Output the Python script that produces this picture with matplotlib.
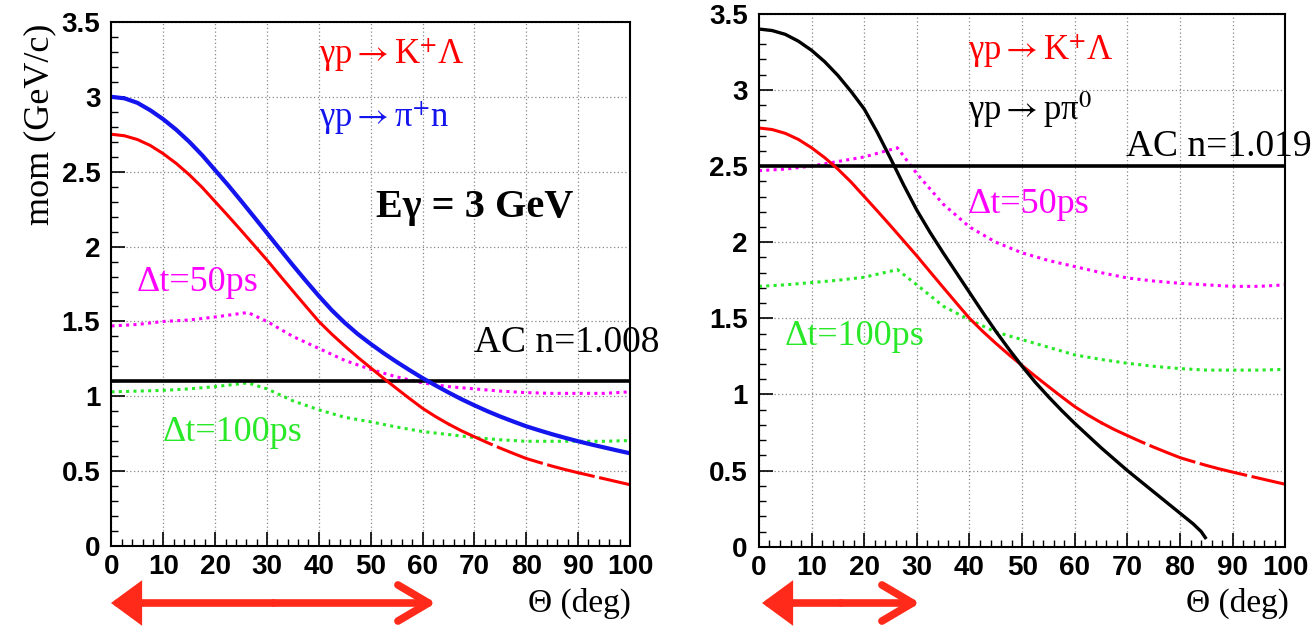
import matplotlib
matplotlib.use("Agg")
import matplotlib.pyplot as plt
from matplotlib.patches import FancyArrowPatch
from matplotlib.ticker import MultipleLocator

plt.rcParams['mathtext.fontset'] = 'stix'

# angles (deg)
theta = [0, 2.5, 5, 7.5, 10, 12.5, 15, 17.5, 20, 22.5, 25, 27.5, 30, 32.5, 35, 37.5, 40,
         42.5, 45, 47.5, 50, 52.5, 55, 57.5, 60, 62.5, 65, 67.5, 70, 72.5, 75, 77.5, 80,
         82.5, 85, 87.5, 90, 92.5, 95, 97.5, 100]
theta_pi0 = [0, 2.5, 5, 7.5, 10, 12.5, 15, 17.5, 20, 22.5, 25, 27.5, 30, 32.5, 35, 37.5, 40,
             42.5, 45, 47.5, 50, 52.5, 55, 57.5, 60, 62.5, 65, 67.5, 70, 72.5, 75, 77.5, 80,
             82.5, 84, 84.8]
theta_dt = [0, 5, 10, 15, 20, 26.3, 30, 35, 40, 45, 50, 55, 60, 65, 70, 75, 80, 85, 90, 95, 100]

# momenta (GeV/c)
mom_KL = [2.75, 2.74, 2.715, 2.675, 2.62, 2.555, 2.48, 2.395, 2.30, 2.205, 2.108, 2.009,
          1.91, 1.806, 1.703, 1.601, 1.50, 1.415, 1.336, 1.261, 1.19, 1.12, 1.052, 0.985,
          0.92, 0.865, 0.815, 0.77, 0.73, 0.691, 0.654, 0.619, 0.585, 0.559, 0.534, 0.511,
          0.49, 0.47, 0.45, 0.43, 0.41]
mom_pin = [3.00, 2.99, 2.96, 2.91, 2.85, 2.78, 2.70, 2.61, 2.51, 2.41, 2.305, 2.198, 2.09,
           1.982, 1.875, 1.771, 1.67, 1.575, 1.491, 1.416, 1.35, 1.288, 1.23, 1.175, 1.122,
           1.073, 1.026, 0.981, 0.94, 0.901, 0.865, 0.832, 0.80, 0.773, 0.747, 0.723,
           0.70, 0.679, 0.659, 0.639, 0.62]
mom_ppi0 = [3.40, 3.39, 3.365, 3.32, 3.26, 3.185, 3.095, 2.99, 2.875, 2.72, 2.55, 2.375,
            2.21, 2.065, 1.93, 1.80, 1.67, 1.54, 1.415, 1.297, 1.185, 1.08, 0.985, 0.895,
            0.81, 0.73, 0.65, 0.575, 0.50, 0.43, 0.36, 0.29, 0.22, 0.15, 0.10, 0.06]

dt50_left = [1.47, 1.48, 1.50, 1.51, 1.53, 1.56, 1.50, 1.40, 1.32, 1.24, 1.18,
             1.13, 1.09, 1.065, 1.05, 1.035, 1.025, 1.02, 1.02, 1.02, 1.03]
dt100_left = [1.03, 1.035, 1.04, 1.05, 1.065, 1.09, 1.05, 0.97, 0.91, 0.86, 0.83,
              0.795, 0.765, 0.745, 0.725, 0.71, 0.70, 0.70, 0.70, 0.70, 0.705]
dt50_right = [2.47, 2.48, 2.50, 2.53, 2.56, 2.62, 2.45, 2.25, 2.10, 2.00, 1.93,
              1.88, 1.84, 1.80, 1.765, 1.745, 1.73, 1.72, 1.71, 1.71, 1.72]
dt100_right = [1.71, 1.72, 1.735, 1.75, 1.77, 1.82, 1.72, 1.58, 1.49, 1.41, 1.36,
               1.31, 1.26, 1.23, 1.205, 1.185, 1.17, 1.16, 1.16, 1.16, 1.165]

ac_left = 1.1
ac_right = 2.5

xticks = [0, 10, 20, 30, 40, 50, 60, 70, 80, 90, 100]
yticks = [0, 0.5, 1, 1.5, 2, 2.5, 3, 3.5]
ylabels = ['0', '0.5', '1', '1.5', '2', '2.5', '3', '3.5']

serif = ['Liberation Serif', 'DejaVu Serif']
dots = (0, (1, 1.4))
red = '#ff0000'
blue = '#1414ee'
magenta = '#ff00ff'
green = '#28e828'
cut = 26  # index of 65 deg, the red curve looks broken after this

fig = plt.figure(figsize=(13.16, 6.27), dpi=100)
ax1 = fig.add_axes([0.0847, 0.129, 0.394, 0.836])
ax2 = fig.add_axes([0.5767, 0.128, 0.400, 0.850])

for ax in (ax1, ax2):
    ax.set_xlim(0, 100)
    ax.set_ylim(0, 3.5)
    ax.set_xticks(xticks)
    ax.set_xticklabels([str(t) for t in xticks])
    ax.set_yticks(yticks)
    ax.set_yticklabels(ylabels)
    ax.xaxis.set_minor_locator(MultipleLocator(2))
    ax.yaxis.set_minor_locator(MultipleLocator(0.1))
    ax.tick_params(which='both', direction='in', top=False, right=False)
    ax.tick_params(which='major', length=10, width=1.2)
    ax.tick_params(which='minor', length=5, width=1)
    ax.tick_params(axis='y', pad=8)
    ax.tick_params(axis='x', pad=6)
    for lab in ax.get_xticklabels() + ax.get_yticklabels():
        lab.set_fontfamily('Liberation Sans')
        lab.set_fontweight('bold')
        lab.set_fontsize(20)
    ax.grid(True, which='major', linestyle=(0, (1, 2)), color='#888888', linewidth=0.9)
    ax.set_axisbelow(True)
    for s in ax.spines.values():
        s.set_linewidth(1.5)

# left panel
ax1.plot(theta_dt, dt50_left, color=magenta, lw=2.2, linestyle=dots)
ax1.plot(theta_dt, dt100_left, color=green, lw=2.2, linestyle=dots)
ax1.axhline(ac_left, color='black', lw=2.6)
ax1.plot(theta[:cut + 1], mom_KL[:cut + 1], color=red, lw=2.2)
ax1.plot(theta[cut:], mom_KL[cut:], color=red, lw=2.2, linestyle=(0, (16, 1.5)))
ax1.plot(theta, mom_pin, color=blue, lw=3.0)

ax1.text(40, 3.28, r'γp$\rightarrow$K$^{+}$Λ', color=red, fontsize=25, family=serif, va='center')
ax1.text(40, 2.86, r'γp$\rightarrow$π$^{+}$n', color=blue, fontsize=25, family=serif, va='center')
ax1.text(51, 2.26, 'Eγ = 3 GeV', color='black', fontsize=29, family=serif,
         fontweight='bold', va='center')
ax1.text(4.8, 1.76, 'Δt=50ps', color=magenta, fontsize=26, family=serif, va='center')
ax1.text(70, 1.36, 'AC n=1.008', color='black', fontsize=27, family=serif, va='center', clip_on=False)
ax1.text(9.8, 0.76, 'Δt=100ps', color=green, fontsize=26, family=serif, va='center')

# right panel
ax2.plot(theta_dt, dt50_right, color=magenta, lw=2.2, linestyle=dots)
ax2.plot(theta_dt, dt100_right, color=green, lw=2.2, linestyle=dots)
ax2.axhline(ac_right, color='black', lw=2.6)
ax2.plot(theta[:cut + 1], mom_KL[:cut + 1], color=red, lw=2.2)
ax2.plot(theta[cut:], mom_KL[cut:], color=red, lw=2.2, linestyle=(0, (16, 1.5)))
ax2.plot(theta_pi0, mom_ppi0, color='black', lw=2.4)

ax2.text(39.7, 3.26, r'γp$\rightarrow$K$^{+}$Λ', color=red, fontsize=25, family=serif, va='center')
ax2.text(39.7, 2.87, r'γp$\rightarrow$pπ$^{0}$', color='black', fontsize=25, family=serif, va='center')
ax2.text(69.8, 2.63, 'AC n=1.019', color='black', fontsize=27, family=serif, va='center', clip_on=False)
ax2.text(39.7, 2.25, 'Δt=50ps', color=magenta, fontsize=26, family=serif, va='center')
ax2.text(4.9, 1.38, 'Δt=100ps', color=green, fontsize=26, family=serif, va='center')

# axis titles
fig.text(40/1316, 1-124/627, 'mom (GeV/c)', rotation=90, fontsize=26, family=serif, ha='center', va='center')
fig.text(631/1316, 1-603/627, 'Θ (deg)', fontsize=24, family=serif, ha='right', va='center')
fig.text(1289/1316, 1-603/627, 'Θ (deg)', fontsize=24, family=serif, ha='right', va='center')

# red arrows under the panels
def arrow(x0, x1, y):
    xm = (x0 + x1) / 2 / 1316
    yy = 1 - y / 627
    fig.add_artist(FancyArrowPatch((xm, yy), (x0/1316, yy), transform=fig.transFigure,
                                   arrowstyle='-|>,head_length=0.75,head_width=0.55',
                                   mutation_scale=20, lw=5.5, color='#ff2a1a',
                                   shrinkA=0, shrinkB=0, joinstyle='miter'))
    fig.add_artist(FancyArrowPatch((xm, yy), (x1/1316, yy), transform=fig.transFigure,
                                   arrowstyle='->,head_length=1.1,head_width=0.65',
                                   mutation_scale=20, lw=5.5, color='#ff2a1a',
                                   shrinkA=0, shrinkB=0))

arrow(111, 436, 603)
arrow(762, 920, 603)

fig.savefig('out.png', dpi=100)
